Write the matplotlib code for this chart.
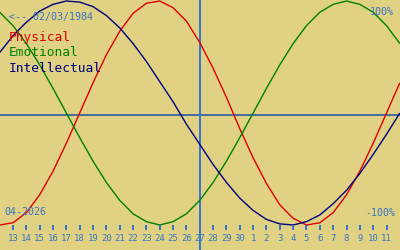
import matplotlib
matplotlib.use("Agg")
import matplotlib.pyplot as plt

# Days shown (Apr 12 .. May 12, 2026); the first and last fall at the canvas edges
days = [12, 13, 14, 15, 16, 17, 18, 19, 20, 21, 22, 23, 24, 25, 26, 27, 28, 29, 30,
        1, 2, 3, 4, 5, 6, 7, 8, 9, 10, 11, 12]
tick_labels = [str(d) for d in days[1:-1]]
today_label = "27"

physical = [-1.00, -0.98, -0.89, -0.73, -0.52, -0.27, 0.00, 0.27, 0.52, 0.73, 0.89, 0.98,
            1.00, 0.94, 0.82, 0.63, 0.40, 0.14, -0.14, -0.40, -0.63, -0.82, -0.94, -1.00,
            -0.98, -0.89, -0.73, -0.52, -0.27, 0.00, 0.27]
emotional = [0.90, 0.78, 0.62, 0.43, 0.22, 0.00, -0.22, -0.43, -0.62, -0.78, -0.90, -0.97,
             -1.00, -0.97, -0.90, -0.78, -0.62, -0.43, -0.22, 0.00, 0.22, 0.43, 0.62, 0.78,
             0.90, 0.97, 1.00, 0.97, 0.90, 0.78, 0.62]
intellectual = [0.54, 0.69, 0.81, 0.91, 0.97, 1.00, 0.99, 0.95, 0.87, 0.76, 0.62, 0.46,
                0.28, 0.10, -0.10, -0.28, -0.46, -0.62, -0.76, -0.87, -0.95, -0.99, -1.00,
                -0.97, -0.91, -0.81, -0.69, -0.54, -0.37, -0.19, 0.00]

series_names = ["Physical", "Emotional", "Intellectual"]
series_colors = ["#e00000", "#008000", "#000080"]
birth_text = "<-- 02/03/1984"
month_text = "04-2026"
top_text = "100%"
bottom_text = "-100%"

BG = "#e0d282"
ACCENT = "#3a74c4"
MONO = "DejaVu Sans Mono"

fig = plt.figure(figsize=(4, 2.5), dpi=100, facecolor=BG)
ax = fig.add_axes([0, 0, 1, 1])
ax.set_facecolor(BG)
ax.axis("off")

x = list(range(len(days)))
ax.set_xlim(1 - 13 / 13.34, 1 + 387 / 13.34)
ax.set_ylim(-137 / 112, 113 / 112)

ax.axhline(-2 / 112, color="#466e9e", lw=1.2, antialiased=False)
today_idx = days.index(int(today_label), 1)
ax.axvline(today_idx, color="#3a78d0", lw=1.2, antialiased=False)

for vals, col in zip([physical, emotional, intellectual], series_colors):
    ax.plot(x, vals, color=col, lw=1.0, solid_capstyle="butt")

tick_x = x[1:-1]
ax.vlines(tick_x, -1.0, -1.045, color=ACCENT, lw=1.2, antialiased=False)
for tx, lab in zip(tick_x, tick_labels):
    ax.text(tx, -125.5 / 112, lab, color=ACCENT, fontsize=6.5, family=MONO,
            ha="center", va="center")

def ptext(px, py, s, **kw):
    ax.text(px / 400, 1 - py / 250, s, transform=ax.transAxes, family=MONO, **kw)

ptext(9, 17, birth_text, color=ACCENT, fontsize=7.2, ha="left", va="center")
for i, (name, col) in enumerate(zip(series_names, series_colors)):
    ptext(9, 38 + 15 * i, name, color=col, fontsize=9.3, ha="left", va="center")
ptext(394, 12, top_text, color=ACCENT, fontsize=7.2, ha="right", va="center")
ptext(395, 213, bottom_text, color=ACCENT, fontsize=7.2, ha="right", va="center")
ptext(4, 212, month_text, color=ACCENT, fontsize=7.2, ha="left", va="center")

fig.savefig("out.png", dpi=100, facecolor=BG)
